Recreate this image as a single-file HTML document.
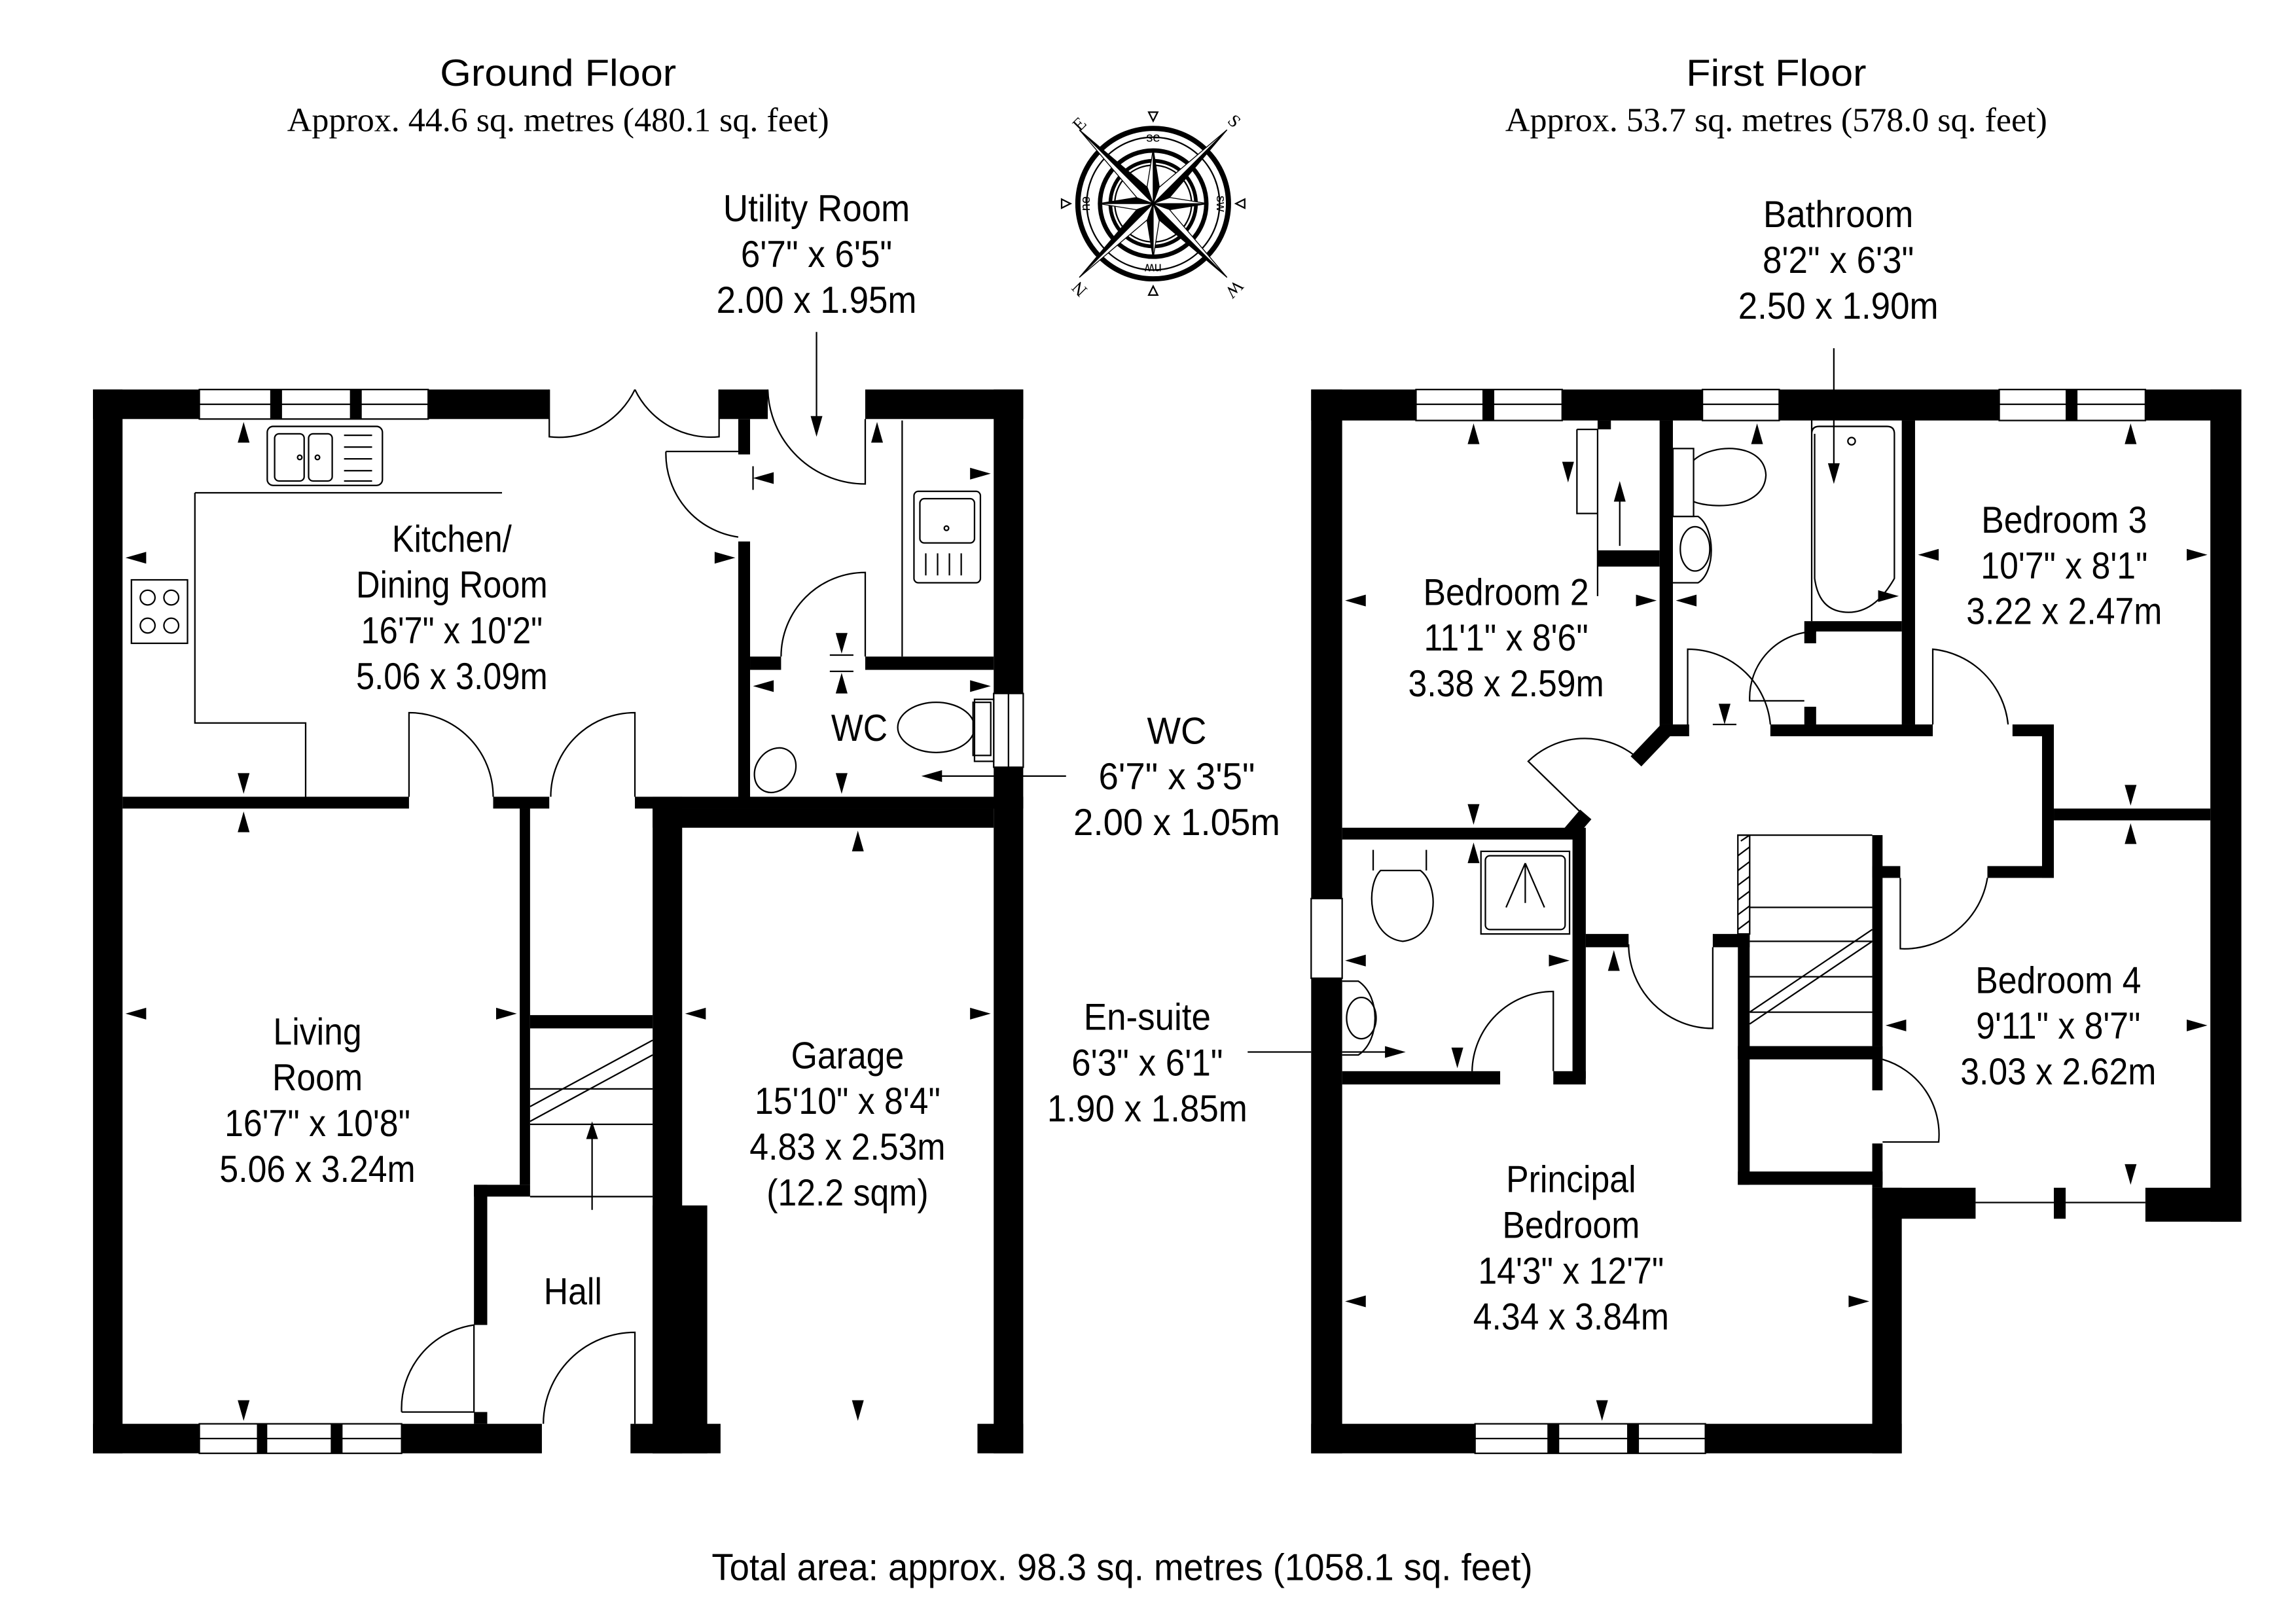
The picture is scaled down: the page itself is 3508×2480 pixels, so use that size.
<!DOCTYPE html>
<html><head><meta charset="utf-8">
<style>
html,body{margin:0;padding:0;background:#fff;}
svg{display:block;}
.t{font-family:"Liberation Sans",sans-serif;font-size:25.5px;fill:#000;}
.s{font-family:"Liberation Serif",serif;font-size:23px;fill:#000;}
.l{stroke:#000;stroke-width:1;fill:none;}
.w{fill:#fff;stroke:#000;stroke-width:1;}
</style></head><body>
<svg width="3508" height="2480" viewBox="0 0 1555 1100" preserveAspectRatio="none" xmlns="http://www.w3.org/2000/svg">
<defs><path id="a" d="M0,0 L-4,14 L4,14Z" fill="#000"/></defs>
<rect width="1555" height="1100" fill="#fff"/>

<!-- Headers -->
<text class="t" x="378" y="58" text-anchor="middle" font-size="29" textLength="160" lengthAdjust="spacingAndGlyphs">Ground Floor</text>
<text class="s" x="378" y="89" text-anchor="middle" textLength="367" lengthAdjust="spacingAndGlyphs">Approx. 44.6 sq. metres (480.1 sq. feet)</text>
<text class="t" x="1203" y="58" text-anchor="middle" font-size="29" textLength="122" lengthAdjust="spacingAndGlyphs">First Floor</text>
<text class="s" x="1203" y="89" text-anchor="middle" textLength="367" lengthAdjust="spacingAndGlyphs">Approx. 53.7 sq. metres (578.0 sq. feet)</text>
<text class="t" x="760" y="1071" text-anchor="middle" textLength="556" lengthAdjust="spacingAndGlyphs">Total area: approx. 98.3 sq. metres (1058.1 sq. feet)</text>

<!-- Compass -->
<g transform="translate(781,138)">
<circle r="51" fill="none" stroke="#000" stroke-width="3.5"/>
<circle r="45" class="l"/>
<circle r="36" fill="none" stroke="#000" stroke-width="3"/>
<circle r="29" fill="none" stroke="#000" stroke-width="2.5"/>
<circle r="26" class="l"/>
<path d="M-3,-62 L0,-56 L3,-62Z M-3,62 L0,56 L3,62Z M-62,-3 L-56,0 L-62,3Z M62,-3 L56,0 L62,3Z" class="l"/>
<g fill="#000" stroke="#000" stroke-width="0.6">
<path d="M0,-37 L5,-6 L0,0Z"/><path d="M0,-37 L-5,-6 L0,0Z" fill="#fff"/>
<path d="M0,37 L-5,6 L0,0Z"/><path d="M0,37 L5,6 L0,0Z" fill="#fff"/>
<path d="M-37,0 L-6,-5 L0,0Z"/><path d="M-37,0 L-6,5 L0,0Z" fill="#fff"/>
<path d="M37,0 L6,5 L0,0Z"/><path d="M37,0 L6,-5 L0,0Z" fill="#fff"/>
<path d="M-50,-50 L-4,-11 L0,0Z"/><path d="M-50,-50 L-11,-4 L0,0Z" fill="#fff"/>
<path d="M50,-50 L11,-4 L0,0Z"/><path d="M50,-50 L4,-11 L0,0Z" fill="#fff"/>
<path d="M-50,50 L-11,4 L0,0Z"/><path d="M-50,50 L-4,11 L0,0Z" fill="#fff"/>
<path d="M50,50 L4,11 L0,0Z"/><path d="M50,50 L11,4 L0,0Z" fill="#fff"/>
</g>
<text x="0" y="-42" font-family="Liberation Sans,sans-serif" font-size="9" text-anchor="middle">se</text>
<text x="0" y="49" font-family="Liberation Sans,sans-serif" font-size="9" text-anchor="middle" transform="rotate(180 0 45)">nw</text>
<text x="-46" y="3" font-family="Liberation Sans,sans-serif" font-size="9" text-anchor="middle" transform="rotate(-90 -46 0)">ne</text>
<text x="46" y="3" font-family="Liberation Sans,sans-serif" font-size="9" text-anchor="middle" transform="rotate(90 46 0)">sw</text>
<text x="-50" y="-50" font-family="Liberation Serif,serif" font-size="12" text-anchor="middle" transform="rotate(-45 -50 -54)">E</text>
<text x="55" y="-52" font-family="Liberation Serif,serif" font-size="12" text-anchor="middle" transform="rotate(45 55 -56)">S</text>
<text x="-50" y="62" font-family="Liberation Serif,serif" font-size="12" text-anchor="middle" transform="rotate(-135 -50 58)">N</text>
<text x="55" y="62" font-family="Liberation Serif,serif" font-size="12" text-anchor="middle" transform="rotate(135 55 58)">W</text>
</g>

<!-- ============ GROUND FLOOR ============ -->
<g fill="#000">
<rect x="63" y="264" width="20" height="721"/>
<rect x="63" y="264" width="72" height="20"/>
<rect x="290" y="264" width="82" height="20"/>
<rect x="487" y="264" width="33" height="20"/>
<rect x="500" y="284" width="8" height="24"/>
<rect x="586" y="264" width="107" height="20"/>
<rect x="673" y="264" width="20" height="206"/>
<rect x="673" y="520" width="20" height="465"/>
<rect x="63" y="965" width="72" height="20"/>
<rect x="272" y="965" width="95" height="20"/>
<rect x="427" y="965" width="61" height="20"/>
<rect x="662" y="965" width="31" height="20"/>
<rect x="500" y="367" width="8" height="175"/>
<rect x="508" y="445" width="21" height="9"/>
<rect x="586" y="445" width="87" height="9"/>
<rect x="83" y="540" width="194" height="8"/>
<rect x="334" y="540" width="38" height="8"/>
<rect x="430" y="540" width="263" height="8"/>
<rect x="442" y="548" width="231" height="13"/>
<rect x="352" y="548" width="7" height="255"/>
<rect x="321" y="803" width="38" height="8"/>
<rect x="321" y="803" width="9" height="95"/>
<rect x="321" y="957" width="9" height="8"/>
<rect x="442" y="540" width="20" height="445"/>
<rect x="442" y="817" width="37" height="168"/>
<rect x="359" y="688" width="83" height="9"/>
</g>
<!-- windows ground -->
<rect class="w" x="135" y="264" width="155" height="20"/><line class="l" x1="135" y1="274" x2="290" y2="274"/>
<rect x="183" y="264" width="8" height="20"/><rect x="237" y="264" width="8" height="20"/>
<rect class="w" x="135" y="965" width="137" height="20"/><line class="l" x1="135" y1="975" x2="272" y2="975"/>
<rect x="174" y="965" width="7" height="20"/><rect x="224" y="965" width="8" height="20"/>
<rect class="w" x="673" y="470" width="20" height="50"/><line class="l" x1="683" y1="470" x2="683" y2="520"/>
<rect class="w" x="660" y="474" width="13" height="42"/>

<!-- kitchen fittings -->
<path class="l" d="M132,334 L340,334 M132,334 L132,490 L207,490 L207,540"/>
<rect class="l" x="181" y="289" width="78" height="40" rx="4"/>
<rect class="l" x="186" y="294" width="20" height="32" rx="3"/>
<rect class="l" x="209" y="294" width="16" height="32" rx="3"/>
<circle class="l" cx="203" cy="310" r="1.5"/><circle class="l" cx="215" cy="310" r="1.5"/>
<path class="l" d="M233,295 H252 M233,303 H252 M233,311 H252 M233,319 H252 M233,326 H252"/>
<rect class="l" x="89" y="393" width="38" height="43"/>
<circle class="l" cx="100" cy="405" r="5"/><circle class="l" cx="116" cy="405" r="5"/>
<circle class="l" cx="100" cy="424" r="5"/><circle class="l" cx="116" cy="424" r="5"/>
<!-- utility sink -->
<line class="l" x1="611" y1="285" x2="611" y2="445"/>
<rect class="l" x="619" y="333" width="45" height="62" rx="3"/>
<rect class="l" x="623" y="338" width="37" height="30" rx="3"/>
<circle class="l" cx="641" cy="358" r="1.5"/>
<path class="l" d="M627,375 V390 M635,375 V390 M643,375 V390 M651,375 V390"/>
<!-- WC fittings -->
<ellipse class="l" cx="634" cy="493" rx="26" ry="17"/>
<rect class="l" x="659" y="476" width="12" height="36"/>
<ellipse class="l" cx="525" cy="522" rx="13" ry="16" transform="rotate(35 525 522)"/>
<!-- stairs -->
<path class="l" d="M359,738 H442 M359,762 H442 M359,811 H442 M359,750 L442,705 M359,760 L442,715"/>
<path class="l" d="M401,820 V770"/><path d="M401,760 L397,772 L405,772Z"/>
<!-- doors ground -->
<path class="l" d="M372,264 V296 A57,57 0 0 0 430,264 M487,264 V296 A57,57 0 0 1 430,264"/>
<path class="l" d="M451,306 L500,306 M451,306 A57,57 0 0 0 500,364"/>
<path class="l" d="M586,284 V328 A66,66 0 0 1 520,264"/>
<path class="l" d="M586,445 V388 A57,57 0 0 0 529,445"/>
<path class="l" d="M277,540 V483 A57,57 0 0 1 334,540"/>
<path class="l" d="M430,540 V483 A57,57 0 0 0 373,540"/>
<path class="l" d="M430,965 V903 A62,62 0 0 0 368,965"/>
<path class="l" d="M272,957 H321 V898 A57,57 0 0 0 272,957"/>

<!-- arrows ground -->
<use href="#a" transform="translate(165,286)"/>
<use href="#a" transform="translate(165,538) rotate(180)"/>
<use href="#a" transform="translate(165,550)"/>
<use href="#a" transform="translate(165,963) rotate(180)"/>
<use href="#a" transform="translate(85,378) rotate(-90)"/>
<use href="#a" transform="translate(498,378) rotate(90)"/>
<use href="#a" transform="translate(85,687) rotate(-90)"/>
<use href="#a" transform="translate(350,687) rotate(90)"/>
<use href="#a" transform="translate(581,563)"/>
<use href="#a" transform="translate(581,963) rotate(180)"/>
<use href="#a" transform="translate(464,687) rotate(-90)"/>
<use href="#a" transform="translate(671,687) rotate(90)"/>
<use href="#a" transform="translate(594,286)"/>
<use href="#a" transform="translate(671,321) rotate(90)"/>
<use href="#a" transform="translate(510,324) rotate(-90)"/>
<path class="l" d="M510,316 V332"/>
<use href="#a" transform="translate(510,465) rotate(-90)"/>
<use href="#a" transform="translate(671,465) rotate(90)"/>
<use href="#a" transform="translate(570,538) rotate(180)"/>
<use href="#a" transform="translate(570,456)"/>
<use href="#a" transform="translate(570,443) rotate(180)"/>
<path class="l" d="M562,444 H578 M562,455 H578"/>

<!-- leaders ground -->
<path class="l" d="M553,225 V290"/><use href="#a" transform="translate(553,296) rotate(180)"/>
<path class="l" d="M722,526 H636"/><use href="#a" transform="translate(624,526) rotate(-90)"/>

<!-- labels ground -->
<g class="t" text-anchor="middle">
<text transform="translate(306,374) scale(0.88,1)"><tspan x="0">Kitchen/</tspan><tspan x="0" dy="31">Dining Room</tspan><tspan x="0" dy="31">16'7" x 10'2"</tspan><tspan x="0" dy="31">5.06 x 3.09m</tspan></text>
<text transform="translate(215,708) scale(0.9,1)"><tspan x="0">Living</tspan><tspan x="0" dy="31">Room</tspan><tspan x="0" dy="31">16'7" x 10'8"</tspan><tspan x="0" dy="31">5.06 x 3.24m</tspan></text>
<text transform="translate(574,724) scale(0.9,1)"><tspan x="0">Garage</tspan><tspan x="0" dy="31">15'10" x 8'4"</tspan><tspan x="0" dy="31">4.83 x 2.53m</tspan><tspan x="0" dy="31">(12.2 sqm)</tspan></text>
<text transform="translate(388,884) scale(0.9,1)">Hall</text>
<text transform="translate(582,502) scale(0.9,1)">WC</text>
<text transform="translate(553,150) scale(0.92,1)"><tspan x="0">Utility Room</tspan><tspan x="0" dy="31">6'7" x 6'5"</tspan><tspan x="0" dy="31">2.00 x 1.95m</tspan></text>
<text transform="translate(797,504) scale(0.95,1)"><tspan x="0">WC</tspan><tspan x="0" dy="31">6'7" x 3'5"</tspan><tspan x="0" dy="31">2.00 x 1.05m</tspan></text>
<text transform="translate(777,698) scale(0.92,1)"><tspan x="0">En-suite</tspan><tspan x="0" dy="31">6'3" x 6'1"</tspan><tspan x="0" dy="31">1.90 x 1.85m</tspan></text>
<text transform="translate(1245,154) scale(0.92,1)"><tspan x="0">Bathroom</tspan><tspan x="0" dy="31">8'2" x 6'3"</tspan><tspan x="0" dy="31">2.50 x 1.90m</tspan></text>
<text transform="translate(1020,410) scale(0.9,1)"><tspan x="0">Bedroom 2</tspan><tspan x="0" dy="31">11'1" x 8'6"</tspan><tspan x="0" dy="31">3.38 x 2.59m</tspan></text>
<text transform="translate(1398,361) scale(0.9,1)"><tspan x="0">Bedroom 3</tspan><tspan x="0" dy="31">10'7" x 8'1"</tspan><tspan x="0" dy="31">3.22 x 2.47m</tspan></text>
<text transform="translate(1394,673) scale(0.9,1)"><tspan x="0">Bedroom 4</tspan><tspan x="0" dy="31">9'11" x 8'7"</tspan><tspan x="0" dy="31">3.03 x 2.62m</tspan></text>
<text transform="translate(1064,808) scale(0.9,1)"><tspan x="0">Principal</tspan><tspan x="0" dy="31">Bedroom</tspan><tspan x="0" dy="31">14'3" x 12'7"</tspan><tspan x="0" dy="31">4.34 x 3.84m</tspan></text>
</g>
<path class="l" d="M845,713 H888"/>
<path class="l" d="M1242,236 V318"/><use href="#a" transform="translate(1242,328) rotate(180)"/>

<!-- ============ FIRST FLOOR ============ -->
<g fill="#000">
<rect x="888" y="264" width="21" height="345"/>
<rect x="888" y="663" width="21" height="322"/>
<rect x="888" y="264" width="71" height="21"/>
<rect x="1058" y="264" width="95" height="21"/>
<rect x="1205" y="264" width="149" height="21"/>
<rect x="1453" y="264" width="65" height="21"/>
<rect x="1497" y="264" width="21" height="564"/>
<rect x="888" y="965" width="111" height="20"/>
<rect x="1155" y="965" width="133" height="20"/>
<rect x="1268" y="805" width="20" height="180"/>
<rect x="1268" y="805" width="70" height="21"/>
<rect x="1453" y="805" width="65" height="23"/>
<rect x="1124" y="285" width="9" height="206"/>
<rect x="1082" y="373" width="42" height="11"/>
<rect x="1082" y="285" width="9" height="6"/>
<rect x="1222" y="421" width="66" height="7"/>
<rect x="1222" y="428" width="8" height="8"/>
<rect x="1222" y="479" width="8" height="12"/>
<rect x="1288" y="285" width="9" height="206"/>
<rect x="1124" y="491" width="20" height="8"/>
<rect x="1199" y="491" width="110" height="8"/>
<rect x="1363" y="491" width="27" height="8"/>
<rect x="1383" y="491" width="8" height="104"/>
<rect x="1346" y="587" width="45" height="8"/>
<rect x="1391" y="548" width="106" height="8"/>
<rect x="1268" y="566" width="7" height="143"/>
<rect x="1268" y="587" width="19" height="8"/>
<rect x="1160" y="633" width="25" height="9"/>
<rect x="1177" y="633" width="8" height="170"/>
<rect x="1177" y="709" width="98" height="9"/>
<rect x="1177" y="794" width="98" height="9"/>
<rect x="1268" y="709" width="7" height="30"/>
<rect x="1268" y="775" width="7" height="30"/>
<rect x="909" y="561" width="158" height="8"/>
<rect x="1065" y="561" width="9" height="170"/>
<rect x="1074" y="633" width="29" height="9"/>
<rect x="909" y="726" width="107" height="9"/>
<rect x="1052" y="726" width="22" height="9"/>
</g>
<path d="M1128,495 L1108,516" stroke="#000" stroke-width="10"/>
<path d="M1062,566 L1074,552" stroke="#000" stroke-width="10"/>
<!-- windows first -->
<rect class="w" x="959" y="264" width="99" height="21"/><line class="l" x1="959" y1="274" x2="1058" y2="274"/><rect x="1004" y="264" width="8" height="21"/>
<rect class="w" x="1153" y="264" width="52" height="21"/><line class="l" x1="1153" y1="274" x2="1205" y2="274"/>
<rect class="w" x="1354" y="264" width="99" height="21"/><line class="l" x1="1354" y1="274" x2="1453" y2="274"/><rect x="1399" y="264" width="8" height="21"/>
<rect class="w" x="888" y="609" width="21" height="54"/>
<rect class="w" x="999" y="965" width="156" height="20"/><line class="l" x1="999" y1="975" x2="1155" y2="975"/><rect x="1048" y="965" width="8" height="20"/><rect x="1102" y="965" width="8" height="20"/>
<line class="l" x1="1338" y1="815" x2="1453" y2="815"/><rect x="1391" y="805" width="8" height="21"/>
<!-- wardrobe -->
<path class="l" d="M1075,291 H1082 V373 M1068,291 H1082 V404 M1068,291 V348 H1082"/>
<path class="l" d="M1097,370 V330"/><use href="#a" transform="translate(1097,326)"/>
<use href="#a" transform="translate(1062,327) rotate(180)"/>
<!-- bathroom fittings -->
<rect class="l" x="1133" y="304" width="14" height="46"/>
<path class="l" d="M1147,312 C1160,300 1195,300 1196,322 C1195,345 1160,345 1147,340"/>
<path class="l" d="M1133,350 H1150 C1162,358 1162,388 1150,395 H1133"/>
<ellipse class="l" cx="1148" cy="372" rx="10" ry="15"/>
<path class="l" d="M1227,285 V421 M1227,294 Q1227,289 1232,289 H1278 Q1283,289 1283,294 V392 Q1270,415 1252,415 Q1232,415 1229,392 V294"/>
<circle class="l" cx="1254" cy="299" r="2.5"/>
<!-- ensuite fittings -->
<rect class="l" x="1003" y="577" width="60" height="56"/>
<rect class="l" x="1006" y="580" width="54" height="50" rx="3"/>
<path class="l" d="M1033,585 L1020,615 M1033,585 L1046,615 M1033,585 V612"/>
<path class="l" d="M930,576 V590 M966,576 V590"/>
<path class="l" d="M935,590 H962 C975,600 975,635 950,638 C926,635 925,600 935,590Z"/>
<path class="l" d="M909,665 H920 C935,675 935,705 920,715 H909"/>
<ellipse class="l" cx="922" cy="690" rx="10" ry="14"/>
<!-- stairs first -->
<rect x="1177" y="566" width="8" height="67" fill="url(#h)" stroke="#000" stroke-width="1"/>
<path class="l" d="M1179,570 L1185,566 M1177,580 L1185,574 M1177,590 L1185,584 M1177,600 L1185,594 M1177,610 L1185,604 M1177,620 L1185,614 M1177,630 L1185,624"/>
<path class="l" d="M1177,566 H1268 M1185,615 H1268 M1185,638 H1268 M1185,662 H1268 M1185,686 H1268 M1185,686 L1268,630 M1185,694 L1268,638"/>
<!-- doors first -->
<path class="l" d="M1143,491 V440 A56,56 0 0 1 1199,491"/>
<path class="l" d="M1230,428 A45,45 0 0 0 1185,475 H1222"/>
<path class="l" d="M1309,491 V440 A57,57 0 0 1 1360,491"/>
<path class="l" d="M1287,595 V643 A57,57 0 0 0 1346,595"/>
<path class="l" d="M1275,718 A53,53 0 0 1 1313,774 H1275"/>
<path class="l" d="M1160,642 V697 A57,57 0 0 1 1103,640"/>
<path class="l" d="M1052,726 V672 A55,55 0 0 0 997,726"/>
<path class="l" d="M1072,552 L1035,516 A55,55 0 0 1 1107,512"/>
<!-- arrows first -->
<use href="#a" transform="translate(998,287)"/>
<use href="#a" transform="translate(998,559) rotate(180)"/>
<use href="#a" transform="translate(911,407) rotate(-90)"/>
<use href="#a" transform="translate(1122,407) rotate(90)"/>
<use href="#a" transform="translate(1135,407) rotate(-90)"/>
<use href="#a" transform="translate(1190,287)"/>
<use href="#a" transform="translate(1286,404) rotate(90)"/>
<use href="#a" transform="translate(1443,287)"/>
<use href="#a" transform="translate(1299,376) rotate(-90)"/>
<use href="#a" transform="translate(1495,376) rotate(90)"/>
<use href="#a" transform="translate(1443,546) rotate(180)"/>
<use href="#a" transform="translate(1443,558)"/>
<use href="#a" transform="translate(1277,695) rotate(-90)"/>
<use href="#a" transform="translate(1495,695) rotate(90)"/>
<use href="#a" transform="translate(1443,803) rotate(180)"/>
<use href="#a" transform="translate(911,882) rotate(-90)"/>
<use href="#a" transform="translate(1266,882) rotate(90)"/>
<use href="#a" transform="translate(1085,963) rotate(180)"/>
<use href="#a" transform="translate(998,571)"/>
<use href="#a" transform="translate(911,651) rotate(-90)"/>
<use href="#a" transform="translate(1063,651) rotate(90)"/>
<use href="#a" transform="translate(987,724) rotate(180)"/>
<use href="#a" transform="translate(1168,491) rotate(180)"/>
<path class="l" d="M1160,491 H1176"/>
<use href="#a" transform="translate(1093,644)"/>
<path class="l" d="M909,713 H940"/><use href="#a" transform="translate(952,713) rotate(90)"/>
</svg>
</body></html>
